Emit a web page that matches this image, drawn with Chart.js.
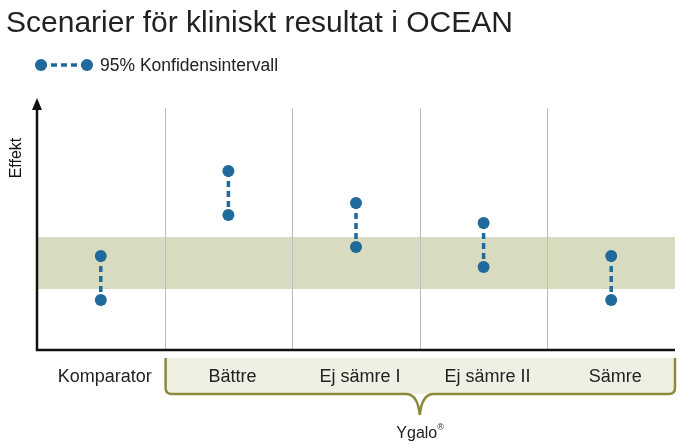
<!DOCTYPE html>
<html>
<head>
<meta charset="utf-8">
<script src="https://cdn.jsdelivr.net/npm/chart.js@4"></script>
<style>
  body { margin: 0; background: #fff; }
  #wrap { width: 692px; height: 448px; }
</style>
</head>
<body>
<div id="wrap"><canvas id="chart"></canvas></div>
<script>
const categories = ["Komparator", "Bättre", "Ej sämre I", "Ej sämre II", "Sämre"];
const upperValues = [38.8, 74, 60.7, 52.5, 38.8];
const lowerValues = [20.7, 55.8, 42.6, 34.3, 20.7];
const bandRange = [25.2, 46.7];
const titleText = "Scenarier för kliniskt resultat i OCEAN";
const legendText = "95% Konfidensintervall";
const groupText = "Ygalo";

const blue = "#1f6a9a";
const font = "'Liberation Sans', Arial, sans-serif";

const datasets = categories.map((c, i) => ({
  data: [{ x: c, y: upperValues[i] }, { x: c, y: lowerValues[i] }],
  borderColor: blue,
  backgroundColor: blue,
  borderWidth: 3.5,
  borderDash: [6, 4],
  pointRadius: 6,
  pointBorderWidth: 0,
}));

const decor = {
  id: "decor",
  beforeDatasetsDraw(chart) {
    const { ctx, chartArea: a, scales: { x, y } } = chart;
    ctx.save();
    ctx.fillStyle = "#d8dbbf";
    const y1 = y.getPixelForValue(bandRange[1]), y0 = y.getPixelForValue(bandRange[0]);
    ctx.fillRect(a.left, y1, a.right - a.left, y0 - y1);
    ctx.strokeStyle = "#bdbdbd";
    ctx.lineWidth = 1;
    for (let i = 1; i < categories.length; i++) {
      const px = Math.round((x.getPixelForValue(i - 1) + x.getPixelForValue(i)) / 2) + 0.5;
      ctx.beginPath(); ctx.moveTo(px, a.top); ctx.lineTo(px, a.bottom); ctx.stroke();
    }
    ctx.restore();
  },
  afterDraw(chart) {
    const { ctx, chartArea: a, scales: { x } } = chart;
    ctx.save();
    ctx.strokeStyle = "#111"; ctx.lineWidth = 2.5;
    ctx.beginPath();
    ctx.moveTo(a.left, a.top - 4); ctx.lineTo(a.left, a.bottom); ctx.lineTo(a.right, a.bottom);
    ctx.stroke();
    ctx.fillStyle = "#111";
    ctx.beginPath();
    ctx.moveTo(a.left, a.top - 10); ctx.lineTo(a.left - 5, a.top + 2); ctx.lineTo(a.left + 5, a.top + 2);
    ctx.closePath(); ctx.fill();
    // y title
    ctx.save();
    ctx.translate(17, 158); ctx.rotate(-Math.PI / 2);
    ctx.font = "16px " + font; ctx.textAlign = "center"; ctx.textBaseline = "middle";
    ctx.fillText("Effekt", 0, 0);
    ctx.restore();
    // bracket box
    const bl = (x.getPixelForValue(0) + x.getPixelForValue(1)) / 2 + 1;
    const br = a.right;
    const top = 358, bot = 394, r = 6;
    ctx.fillStyle = "#f0efe4";
    ctx.fillRect(bl, top, br - bl, bot - top);
    ctx.strokeStyle = "#8a8a3a"; ctx.lineWidth = 2.5;
    const mid = (x.getPixelForValue(2) + x.getPixelForValue(3)) / 2;
    ctx.beginPath();
    ctx.moveTo(bl, top);
    ctx.lineTo(bl, bot - r); ctx.quadraticCurveTo(bl, bot, bl + r, bot);
    ctx.lineTo(mid - 14, bot); ctx.quadraticCurveTo(mid - 2, bot, mid, 415);
    ctx.quadraticCurveTo(mid + 2, bot, mid + 14, bot);
    ctx.lineTo(br - r, bot); ctx.quadraticCurveTo(br, bot, br, bot - r);
    ctx.lineTo(br, top);
    ctx.stroke();
    // category labels
    ctx.fillStyle = "#222"; ctx.font = "18px " + font;
    ctx.textAlign = "center"; ctx.textBaseline = "middle";
    categories.forEach((c, i) => ctx.fillText(c, x.getPixelForValue(i) + 4, 377));
    ctx.font = "16px " + font;
    ctx.fillText(groupText, mid - 3, 434);
    const w = ctx.measureText(groupText).width;
    ctx.font = "9px " + font; ctx.textAlign = "left";
    ctx.fillText("®", mid - 3 + w / 2, 428);
    // title
    ctx.font = "30px " + font; ctx.textAlign = "left"; ctx.fillStyle = "#222";
    ctx.fillText(titleText, 6, 24);
    // legend
    ctx.strokeStyle = blue; ctx.fillStyle = blue; ctx.lineWidth = 3.5; ctx.setLineDash([6, 4]);
    ctx.beginPath(); ctx.moveTo(41, 65); ctx.lineTo(87, 65); ctx.stroke();
    ctx.setLineDash([]);
    [41, 87].forEach(px => { ctx.beginPath(); ctx.arc(px, 65, 6, 0, Math.PI * 2); ctx.fill(); });
    ctx.fillStyle = "#222"; ctx.font = "17.5px " + font;
    ctx.fillText(legendText, 100, 66);
    ctx.restore();
  }
};

new Chart(document.getElementById("chart"), {
  type: "line",
  data: { labels: categories, datasets },
  options: {
    responsive: true,
    maintainAspectRatio: false,
    animation: false,
    layout: { padding: { left: 37, right: 17, top: 108, bottom: 98 } },
    plugins: { legend: { display: false }, tooltip: { enabled: false } },
    scales: {
      x: { type: "category", offset: true, display: false },
      y: { min: 0, max: 100, display: false },
    },
  },
  plugins: [decor],
});
</script>
</body>
</html>
